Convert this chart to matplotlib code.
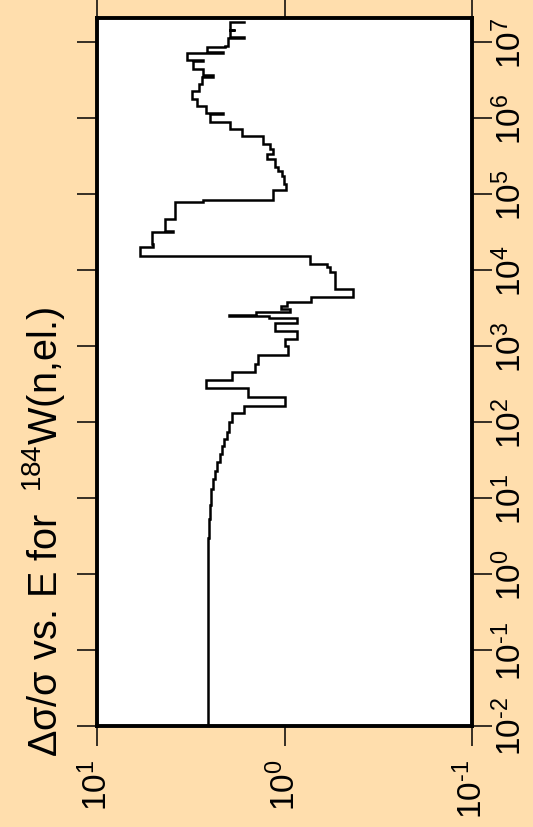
import numpy as np
import matplotlib
matplotlib.use('Agg')
import matplotlib.pyplot as plt
from matplotlib.ticker import FixedLocator, FixedFormatter, NullLocator

plt.rcParams['font.family'] = ['Liberation Sans', 'DejaVu Sans']
plt.rcParams['mathtext.fontset'] = 'custom'
plt.rcParams['mathtext.rm'] = 'Liberation Sans'
plt.rcParams['mathtext.it'] = 'Liberation Sans:italic'
plt.rcParams['mathtext.bf'] = 'Liberation Sans:bold'

# lower energy of each group (eV) and the relative uncertainty in that group
energy_lo = [
    1e-2, 1.5, 3.0, 5.3, 8.0, 13, 18, 23, 30, 38, 48, 60, 75, 100,
    131, 163, 213, 280, 357, 455, 580, 762, 1000, 1236, 1575, 2010,
    2336, 2520, 2596, 2800, 3068, 3360, 3790, 4415, 5620, 9420, 10950,
    12000, 15290, 20100, 22000, 31600, 33000, 46900, 78500, 83400,
    1.13e5, 1.355e5, 1.725e5, 2.01e5, 2.265e5, 2.89e5, 3.36e5, 3.91e5,
    4.55e5, 5.8e5, 7.16e5, 8.85e5, 1.13e6, 1.17e6, 1.44e6, 1.78e6,
    2.26e6, 2.8e6, 3.46e6, 3.7e6, 4.41e6, 5.62e6, 5.8e6, 7.16e6, 7.4e6,
    8.6e6, 8.85e6, 1.13e7, 1.17e7, 1.42e7, 1.46e7, 1.83e7,
]
energy_hi = 1.86e7
rel_unc = [
    2.56, 2.55, 2.53, 2.50, 2.46, 2.41, 2.35, 2.29, 2.22, 2.15, 2.09, 2.03, 1.97, 1.91,
    1.64, 0.99, 1.57, 2.62, 1.91, 1.44, 1.38, 0.96, 0.99, 0.86, 1.12, 0.86,
    1.21, 1.98, 1.42, 0.93, 1.04, 0.97, 0.72, 0.43, 0.54, 0.57, 0.59,
    0.73, 5.90, 5.03, 5.09, 3.93, 4.34, 3.84, 2.72, 1.15,
    0.98, 1.01, 1.03, 1.08, 1.12, 1.24, 1.15, 1.19,
    1.30, 1.69, 1.95, 2.50, 2.13, 2.62, 2.93, 3.11,
    2.86, 2.75, 2.41, 2.72, 3.08, 2.72, 3.31, 2.13, 2.59,
    2.08, 2.00, 1.64, 1.95, 1.84, 1.95, 1.64,
]

HY = '\u2010'  # short hyphen for negative exponents
energy_ticks = [1e-2, 1e-1, 1e0, 1e1, 1e2, 1e3, 1e4, 1e5, 1e6, 1e7]
energy_labels = [r'$\mathregular{10^{%s2}}$' % HY, r'$\mathregular{10^{%s1}}$' % HY,
                 r'$\mathregular{10^{0}}$', r'$\mathregular{10^{1}}$', r'$\mathregular{10^{2}}$',
                 r'$\mathregular{10^{3}}$', r'$\mathregular{10^{4}}$', r'$\mathregular{10^{5}}$',
                 r'$\mathregular{10^{6}}$', r'$\mathregular{10^{7}}$']
unc_ticks = [10, 1, 0.1]
unc_labels = [r'$\mathregular{10^{1}}$', r'$\mathregular{10^{0}}$', r'$\mathregular{10^{%s1}}$' % HY]

bg = '#FFDEAD'
fig = plt.figure(figsize=(5.33, 8.28), dpi=100, facecolor=bg)
ax = fig.add_axes([97 / 533, 101 / 828, 375 / 533, 708 / 828])
ax.set_facecolor('white')

# histogram outline: uncertainty on x, energy on y
edges = np.array(energy_lo + [energy_hi])
xs = np.repeat(rel_unc, 2)
ys = np.repeat(edges, 2)[1:-1]
ax.plot(xs, ys, color='black', lw=1.8, solid_joinstyle='miter')

ax.set_xscale('log')
ax.set_yscale('log')
ax.set_xlim(10, 0.1)
ax.set_ylim(1e-2, 2.07e7)

ax.xaxis.set_major_locator(FixedLocator(unc_ticks))
ax.xaxis.set_major_formatter(FixedFormatter(unc_labels))
ax.xaxis.set_minor_locator(NullLocator())
ax.yaxis.set_major_locator(FixedLocator(energy_ticks))
ax.yaxis.set_major_formatter(FixedFormatter(energy_labels))
ax.yaxis.set_minor_locator(NullLocator())

for s in ax.spines.values():
    s.set_linewidth(2.8)

ax.tick_params(axis='both', which='major', direction='out', length=14.5, width=1.1,
               top=True, bottom=True, left=True, right=True,
               labelleft=False, labelright=True, labeltop=False, labelbottom=True,
               labelsize=24)
ax.tick_params(axis='x', pad=9)
ax.tick_params(axis='y', pad=1)
for t in ax.get_xticklabels():
    t.set_rotation(90)
for t in ax.get_yticklabels():
    t.set_rotation(90)
    t.set_verticalalignment('center')

fig.text(44 / 533, 1 - 532 / 828, 'Δσ/σ vs. E for  $^{\\mathregular{184}}$W(n,el.)',
         rotation=90, fontsize=28.5, ha='center', va='center')

fig.savefig('out.png', dpi=100, facecolor=bg)
